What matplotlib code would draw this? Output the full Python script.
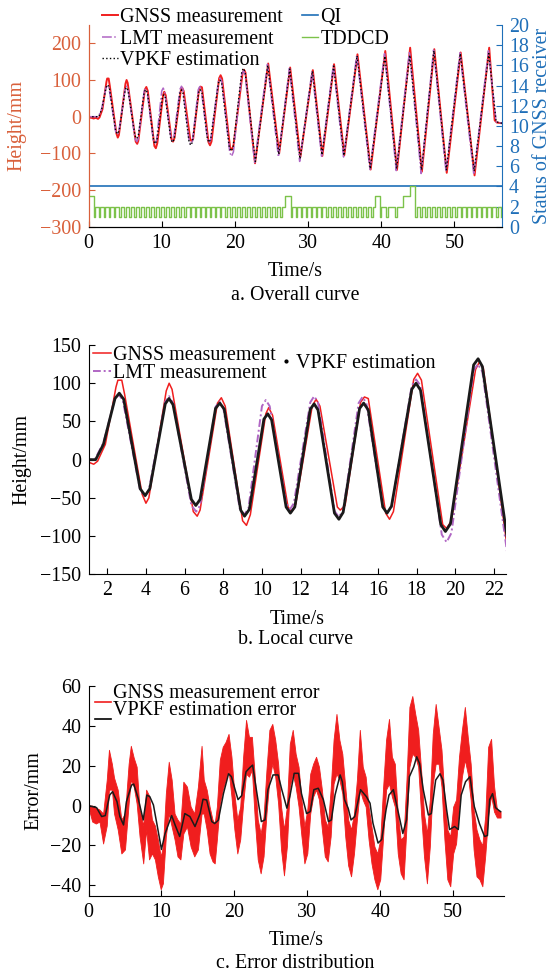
import numpy as np
import matplotlib.pyplot as plt
from matplotlib.lines import Line2D
from matplotlib.legend_handler import HandlerLine2D

plt.rcParams['font.family'] = ['Liberation Serif', 'DejaVu Serif']
plt.rcParams['font.size'] = 14.4

# Height curves, key points (start, peaks, troughs, end)
gnss_t = [0, 0.4, 0.7, 1.0, 1.3, 1.5, 1.9, 2.45, 2.55, 2.75, 2.9, 3.8, 4.0, 4.15, 5.05, 5.2, 5.35,
          6.45, 6.65, 6.8, 7.7, 7.9, 8.1, 9.0, 9.2, 9.4, 10.2, 10.35, 10.55, 11.35, 11.55, 11.75,
          12.6, 12.8, 13.0, 13.9, 14.05, 14.3, 15.1, 15.3, 15.5, 16.4, 16.6, 16.8, 17.85, 18.05, 18.25,
          19.35, 19.55, 19.8, 21.05, 21.25, 21.45, 22.75, 24.55, 26.05, 27.55, 28.95, 30.65, 31.95,
          33.55, 34.95, 36.75, 38.55, 40.55, 42.15, 43.95, 45.55, 47.25, 48.95, 50.85, 52.75, 54.75,
          55.5, 55.8, 56.5]
gnss_h = [-2, -3, -5, -3, -6, -2, 20, 95, 104, 104, 85, -45, -57, -50, 90, 100, 92,
          -68, -74, -66, 74, 81, 70, -80, -86, -72, 60, 68, 58, -62, -68, -58,
          70, 79, 70, -62, -66, -60, 75, 82, 80, -70, -78, -68, 105, 113, 104,
          -85, -90, -80, 118, 128, 120, -127, 145, -100, 134, -110, 127, -107,
          143, -105, 170, -144, 179, -145, 188, -150, 184, -153, 175, -160, 188,
          -10, -16, -18]

lmt_t = [0, 1.35, 1.8, 2.4, 2.6, 2.8, 3.7, 3.95, 4.15, 5.0, 5.2, 5.4, 6.35, 6.6, 6.8, 7.6, 7.8, 8.0,
         8.85, 9.08, 9.3, 10.0, 10.2, 10.4, 11.25, 11.45, 11.65, 12.5, 12.7, 12.9, 13.75, 13.97, 14.2,
         15.0, 15.2, 15.4, 16.25, 16.47, 16.7, 17.75, 17.97, 18.2, 19.3, 19.55, 19.8, 20.95, 21.17, 21.4,
         22.7, 24.45, 25.95, 27.45, 28.85, 30.55, 31.85, 33.45, 34.85, 36.65, 38.45, 40.45, 42.05,
         43.85, 45.45, 47.15, 48.85, 50.75, 52.65, 54.65, 55.7, 56.5]
lmt_h = [0, 0, 22, 80, 85, 78, -40, -48, -40, 76, 83, 74, -60, -68, -60, 69, 76, 68,
         -64, -72, -64, 70, 78, 70, -57, -65, -57, 75, 83, 75, -67, -75, -67,
         74, 82, 74, -62, -70, -62, 97, 105, 97, -98, -108, -96, 117, 125, 115,
         -125, 143, -110, 132, -122, 125, -108, 140, -110, 168, -144, 172, -147,
         178, -155, 182, -150, 174, -158, 180, -14, -18]

vpkf_t = [0, 1.4, 1.8, 2.4, 2.62, 2.85, 3.7, 3.96, 4.2, 5.0, 5.19, 5.4, 6.35, 6.58, 6.8, 7.6, 7.82, 8.05,
          8.9, 9.1, 9.35, 10.1, 10.3, 10.5, 11.25, 11.47, 11.7, 12.5, 12.7, 12.9, 13.75, 13.98, 14.2,
          15.05, 15.26, 15.5, 16.25, 16.47, 16.7, 17.75, 17.97, 18.2, 19.25, 19.49, 19.75, 20.95, 21.18, 21.4,
          22.8, 24.5, 26.0, 27.5, 28.9, 30.6, 31.9, 33.5, 34.9, 36.7, 38.5, 40.5, 42.1,
          43.9, 45.5, 47.2, 48.9, 50.8, 52.7, 54.7, 55.7, 56.5]
vpkf_h = [0, 0, 20, 80, 87, 79, -38, -47, -38, 73, 80, 72, -52, -60, -52, 67, 74, 66,
          -66, -74, -65, 53, 60, 52, -62, -70, -62, 66, 73, 65, -70, -78, -69,
          67, 74, 65, -62, -70, -61, 92, 100, 91, -85, -94, -84, 124, 132, 122,
          -122, 140, -103, 130, -115, 124, -104, 138, -106, 166, -142, 165, -142,
          168, -145, 180, -145, 172, -148, 172, -14, -18]

# receiver status (right axis)
qi_t = [0, 56.5]
qi_v = [4, 4]
tddcd_dt = 0.23  # sampling step of the status trace, s
tddcd_levels = (
    "3331"
    "221221221221221221221221221221"
    "221221221221221221221221221221"
    "221221221221221221221221221221"
    "221221221221221221221"
    "22333" "1"
    "221221221221221221221221221221"
    "221221221221221221"
    "2333" "1"
    "222" "1" "2222" "1" "2222" "3333" "444" "1"
    "221221221221221221221221221221"
    "221221221221221221221"
)
tddcd = [int(c) for c in tddcd_levels]
tddcd_t = np.arange(len(tddcd)) * tddcd_dt

# Error curves: GNSS error band (upper / lower edge of the noisy trace) and VPKF error
err_t = [0.0, 0.5, 1.0, 1.5, 2.0, 2.5, 2.8, 3.2, 3.5, 4.0, 4.5, 5.0, 5.5, 5.8, 6.2, 6.6, 7.0, 7.5, 7.9,
         8.3, 8.7, 9.1, 9.5, 9.9, 10.2, 10.6, 11.0, 11.4, 11.8, 12.2, 12.6, 13.0, 13.5, 14.0, 14.5,
         15.0, 15.5, 15.8, 16.2, 16.6, 17.0, 17.3, 17.6, 18.0, 18.4, 18.8, 19.2, 19.6, 20.0, 20.4,
         20.8, 21.2, 21.6, 22.0, 22.4, 22.8, 23.2, 23.6, 24.0, 24.4, 24.8, 25.2, 25.6, 26.0, 26.4,
         26.8, 27.2, 27.6, 28.0, 28.4, 28.8, 29.2, 29.6, 30.0, 30.4, 30.8, 31.2, 31.6, 32.0, 32.4,
         32.8, 33.2, 33.6, 34.0, 34.4, 34.8, 35.2, 35.6, 36.0, 36.4, 36.8, 37.2, 37.6, 38.0, 38.4,
         38.8, 39.2, 39.6, 40.0, 40.4, 40.8, 41.2, 41.6, 42.0, 42.4, 42.8, 43.2, 43.6, 44.0, 44.4,
         44.8, 45.2, 45.6, 46.0, 46.4, 46.8, 47.2, 47.6, 48.0, 48.4, 48.8, 49.2, 49.6, 50.0, 50.4,
         50.8, 51.2, 51.6, 52.0, 52.4, 52.8, 53.2, 53.6, 54.0, 54.4, 54.8, 55.2, 55.6, 56.0, 56.5]
err_hi = [0, 0, -1, -2, -4, 13, 28, 21, 14, 8, -7, -4, 21, 30, 24, 19.5, -2, -10, 8,
          5, -7, -10, -17, -25.5, -20.5, 6, 22, 13, -4, -7, -9, 12, 9.5, -0.5, -4,
          9.5, 30, 13, 8, -0.5, -7, -9, -0.5, 23, 29.5, 32, 36, 24.5, 6, -7,
          -0.5, 24.5, 43, 34.5, 34.5, 14.5, -7, -14, -5.5, 18, 38, 41, 33, 21, -0.5,
          -12, -0.5, 31, 38, 26, 19.5, 3, -10.5, -2, 16, 21, 24.5, 19.5, 8, -7,
          -10.5, 8, 33, 46, 33, 26, 9.5, -7, -12, -4, 13, 38, 19.5, 14.5, -0.5,
          -10.5, -20.5, -24, -17, 9.5, 33, 43.5, 24.5, 21, -4, -17, -15.5, 13, 49.5, 55,
          46, 38, 18, -4, -14, 3, 36, 51, 39.5, 28, 4.5, -12, -15.5, -0.5, 3,
          24.5, 38, 49.5, 34.5, 21, -2, -12, -17, -20, -5, 29.5, 33.5, 10, -2, -3]
err_lo = [-1, -8, -9, -8, -19, -10, 8, 8, -4, -12, -24, -22, 1, 13, 9.5, 1, -15.5, -29, -12,
          -27, -24, -27, -35.5, -42, -39, -15.5, -4, -10.5, -17, -25.5, -27, -14, -10.5, -20.5, -25.5,
          -22, -4, -4, -12, -24, -28, -29, -17, 1, 8, 13, 18, 4.5, -12, -24,
          -17, 1, 16, 14.5, 18, -7, -27, -34, -25.5, -4, 13, 21, 14.5, 1, -22,
          -35, -20.5, 9.5, 16, 9.5, -0.5, -15.5, -29, -24, -4, 4.5, 8, 3, -12, -25.5,
          -28, -15.5, 11, 16, 13, 6, -15.5, -30, -35.5, -24, -7, 8, 3, -0.5, -17,
          -29, -37, -42, -37, -15.5, 8, 11, 4.5, -0.5, -24, -34, -37, -10.5, 19.5, 26,
          24.5, 19.5, -4, -25.5, -39, -20.5, 11, 21, 21, 9.5, -17, -37, -40.5, -24, -19,
          -0.5, 14.5, 23, 16, 3, -22, -35.5, -37, -40.5, -25, -5, 5, -3, -6, -6]

vpkf_err_t = [0, 1.1, 1.8, 2.3, 2.9, 3.3, 3.9, 4.3, 4.8, 5.2, 5.9, 6.2, 6.8, 7.5, 8.0, 8.4, 8.9, 9.4,
              10.0, 10.5, 11.0, 11.4, 11.9, 12.5, 13.2, 13.9, 14.6, 15.3, 15.7, 16.2, 16.9, 17.3, 17.8,
              18.5, 19.2, 19.6, 20.1, 20.5, 21.0, 21.6, 22.1, 22.5, 22.8, 23.3, 23.7, 24.2, 24.6, 25.3,
              26.0, 26.5, 27.2, 27.6, 28.2, 28.8, 29.2, 29.9, 30.4, 30.9, 31.5, 32.2, 32.9, 33.3, 33.8,
              34.5, 34.8, 35.1, 35.6, 36.0, 36.5, 37.3, 38.1, 38.6, 39.0, 39.7, 40.2, 40.8, 41.2, 41.8,
              42.2, 42.7, 43.1, 43.6, 44.0, 44.6, 45.0, 45.4, 45.9, 46.6, 47.0, 47.6, 48.2, 48.6, 49.1,
              49.5, 50.2, 50.7, 51.1, 51.7, 52.3, 52.9, 53.6, 54.3, 54.7, 55.0, 55.4, 55.8, 56.3, 56.5]
vpkf_err = [0, -1, -5.5, -5, 5.3, 7, 2, -5.5, -9.7, 2, 10.3, 10.8, 3.7, -7.2, 5.3, 4.5, 0.3, -9.7,
            -22, -14, -9, -5, -10, -15.5, -4, -5.5, -10.5, -4, 3.2, 2.8, -8, -9, -7.3,
            6, 16, 14.5, 8, 3, 5, 17, 19, 20.3, 13, 1.2, -8, -7.2, 8, 15.4,
            15.4, 8, -1.3, 4.5, 16.2, 16.2, 6, -4, -3, 8, 8.7, 3, -8, -7.2, 5.3,
            15.4, 12, 3, -1.3, -7.2, -5.5, 8, 4.5, 1.2, -8.8, -18.8, -17, -2, 5.3, 8,
            1.2, -7.2, -14, -7.2, 14.5, 19.5, 24.5, 21, 8, -4.7, -4, 12.8, 16, 12.8, -2,
            -12, -10.5, -12, 5.3, 12, 14.5, -0.5, -9, -15.5, -15, 3, 6, -1, -2.5, -3]

c_orange = '#d9603b'
c_blue = '#1f6fb8'
c_red = '#f01e1e'
c_purple = '#b066c4'
c_green = '#7cc24a'


class LowLineHandler(HandlerLine2D):
    # legend line drawn on the text baseline, as in the original panel c
    def create_artists(self, legend, orig_handle, xdescent, ydescent, width, height, fontsize, trans):
        arts = super().create_artists(legend, orig_handle, xdescent, ydescent,
                                      width, height, fontsize, trans)
        for a in arts:
            a.set_ydata(np.asarray(a.get_ydata(), dtype=float) - 0.8 * height)
        return arts


fig = plt.figure(figsize=(5.55, 9.76), dpi=100)

# ---------------- a. Overall curve
ax = fig.add_axes([0.1595, 0.7677, 0.7450, 0.2067])
l1, = ax.plot(gnss_t, gnss_h, color=c_red, lw=1.4)
l2, = ax.plot(lmt_t, lmt_h, color=c_purple, lw=1.1, linestyle='-.')
l3, = ax.plot(vpkf_t, vpkf_h, color='black', lw=1.0, linestyle=':')
ax.set_xlim(0, 56.5)
ax.set_ylim(-300, 250)
ax.set_yticks([-300, -200, -100, 0, 100, 200])
ax.set_xticks([0, 10, 20, 30, 40, 50])
ax.set_xlabel('Time/s', labelpad=7)
ax.set_ylabel('Height/mm', color=c_orange)
ax.yaxis.set_label_coords(-0.151, 0.5)
ax.tick_params(direction='in', length=4, pad=5)
ax.tick_params(axis='y', colors=c_orange)
ax.spines['left'].set_color(c_orange)
ax.spines['top'].set_visible(False)
ax.spines['right'].set_visible(False)

ax2 = ax.twinx()
l4, = ax2.plot(qi_t, qi_v, color=c_blue, lw=1.2)
l5, = ax2.plot(tddcd_t, tddcd, color=c_green, lw=1.0, drawstyle='steps-post')
ax2.set_ylim(0, 20)
ax2.set_yticks(range(0, 21, 2))
ax2.set_ylabel('Status of GNSS receiver', color=c_blue)
ax2.yaxis.set_label_coords(1.075, 0.5)
ax2.tick_params(direction='in', length=4, pad=5, colors=c_blue)
ax2.spines['right'].set_color(c_blue)
ax2.spines['left'].set_color(c_orange)
ax2.spines['top'].set_visible(False)

fig.legend([l1, l2, l3, l4, l5],
           ['GNSS measurement', 'LMT measurement', 'VPKF estimation', 'QI', 'TDDCD'],
           loc='upper left', bbox_to_anchor=(0.183, 0.9915), ncol=2, frameon=False,
           handlelength=0.8, handletextpad=0.1, columnspacing=1.0, labelspacing=0.12,
           borderpad=0, borderaxespad=0)
fig.text(0.532, 1 - 296 / 976, 'a. Overall curve', ha='center', va='center')

# ---------------- b. Local curve
bx = fig.add_axes([0.1595, 0.4116, 0.7514, 0.2349])
m1, = bx.plot(gnss_t, gnss_h, color=c_red, lw=1.1)
m2, = bx.plot(lmt_t, lmt_h, color=c_purple, lw=1.4, linestyle=(0, (4, 1.5, 1, 1.5)))
bx.plot(vpkf_t, vpkf_h, color='#1a1a1a', lw=2.0)
bx.set_xlim(1.03, 22.6)
bx.set_ylim(-150, 150)
bx.set_xticks(range(2, 23, 2))
bx.set_yticks([-150, -100, -50, 0, 50, 100, 150])
bx.set_xlabel('Time/s', labelpad=7)
bx.set_ylabel('Height/mm')
bx.yaxis.set_label_coords(-0.138, 0.5)
bx.tick_params(direction='in', length=4, pad=5)
bx.spines['top'].set_visible(False)
bx.spines['right'].set_visible(False)
leg_b = bx.legend([m1, m2], ['GNSS measurement', 'LMT measurement'], loc='upper left',
                  bbox_to_anchor=(0.168, 0.645), bbox_transform=fig.transFigure, frameon=False,
                  handlelength=0.9, handletextpad=0.1, labelspacing=-0.05,
                  borderpad=0, borderaxespad=0)
bx.add_artist(leg_b)
dot = Line2D([], [], color='black', marker='.', markersize=4, linestyle='none')
bx.legend([dot], ['VPKF estimation'], loc='upper left',
          bbox_to_anchor=(0.505, 0.6368), bbox_transform=fig.transFigure, frameon=False,
          handlelength=0.6, handletextpad=0.2, borderpad=0, borderaxespad=0)
fig.text(0.532, 1 - 640 / 976, 'b. Local curve', ha='center', va='center')

# ---------------- c. Error distribution
cx = fig.add_axes([0.1595, 0.0823, 0.7490, 0.2148])
cx.fill_between(err_t, err_lo, err_hi, color=c_red, lw=0.6, edgecolor=c_red)
cx.plot(vpkf_err_t, vpkf_err, color='#1a1a1a', lw=1.1)
cx.set_xlim(0, 57)
cx.set_ylim(-45.2, 60)
cx.set_xticks([0, 10, 20, 30, 40, 50])
cx.set_yticks([-40, -20, 0, 20, 40, 60])
cx.set_xlabel('Time/s', labelpad=7)
cx.set_ylabel('Error/mm')
cx.yaxis.set_label_coords(-0.108, 0.5)
cx.tick_params(direction='in', length=4, pad=5)
cx.spines['top'].set_visible(False)
cx.spines['right'].set_visible(False)
h_red = Line2D([], [], color=c_red, lw=1.2)
h_blk = Line2D([], [], color='black', lw=1.2)
cx.legend([h_red, h_blk], ['GNSS measurement error', 'VPKF estimation error'], loc='upper left',
          bbox_to_anchor=(0.171, 0.2995), bbox_transform=fig.transFigure, frameon=False,
          handlelength=0.8, handletextpad=0.1, labelspacing=-0.08,
          borderpad=0, borderaxespad=0,
          handler_map={Line2D: LowLineHandler()})
fig.text(0.532, 1 - 963 / 976, 'c. Error distribution', ha='center', va='center')

plt.savefig('out.png', dpi=100)
